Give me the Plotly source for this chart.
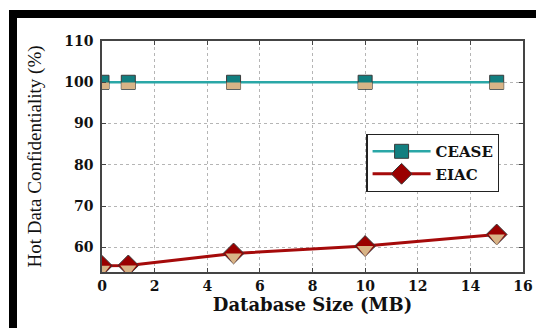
import plotly.graph_objects as go

# Data
db_size_mb = [0, 1, 5, 10, 15]
cease_conf = [100, 100, 100, 100, 100]
eiac_conf = [55.5, 55.6, 58.5, 60.3, 63.1]

x_ticks = [0, 2, 4, 6, 8, 10, 12, 14, 16]
y_ticks = [60, 70, 80, 90, 100, 110]

TEAL_LINE = "#2aa7a7"
TEAL_DARK = "#127f80"
RED_LINE = "#a50a0a"
RED_DARK = "#9a0000"
TAN = "#d8b487"
EDGE = "#3a3a3a"

fig = go.Figure()

# CEASE: line + squares (top teal, bottom tan)
fig.add_trace(go.Scatter(
    x=db_size_mb, y=cease_conf, mode="lines+markers", name="CEASE",
    line=dict(color=TEAL_LINE, width=2.5),
    marker=dict(symbol="square", size=14, color=TEAL_DARK,
                line=dict(color=EDGE, width=1)),
))
fig.add_trace(go.Scatter(
    x=db_size_mb, y=cease_conf, mode="markers", showlegend=False, hoverinfo="skip",
    marker=dict(symbol="line-ew", size=10, angle=0, standoff=3.5,
                color=TAN, line=dict(color=TAN, width=6.5)),
))

# EIAC: line + diamonds (top dark red, bottom tan)
fig.add_trace(go.Scatter(
    x=db_size_mb, y=eiac_conf, mode="lines+markers", name="EIAC",
    line=dict(color=RED_LINE, width=3),
    marker=dict(symbol="diamond", size=16, color=RED_DARK,
                line=dict(color=EDGE, width=1)),
))
fig.add_trace(go.Scatter(
    x=db_size_mb, y=eiac_conf, mode="markers", showlegend=False, hoverinfo="skip",
    marker=dict(symbol="triangle-down", size=14, angle=0, standoff=3.5,
                color=TAN, line=dict(width=0)),
))

tick_font = dict(family="DejaVu Serif", size=14, color="#111111", weight="bold")

# The page body adds an 8px margin on every side, so the figure is made
# smaller to fit the 544x336 window without scrollbars.
fig.update_layout(
    width=536, height=320,
    margin=dict(l=94, r=21, t=33, b=56),
    paper_bgcolor="white", plot_bgcolor="white",
    showlegend=True,
    legend=dict(
        x=0.628, y=0.598, xanchor="left", yanchor="top",
        bgcolor="white", bordercolor="#222222", borderwidth=1.2,
        font=dict(family="DejaVu Serif", size=15, color="#111111", weight="bold"),
        tracegroupgap=0, itemwidth=58,
    ),
    xaxis=dict(
        range=[0, 16], tickvals=x_ticks, ticktext=[str(v) for v in x_ticks],
        showgrid=True, gridcolor="#b5b5b5", griddash="dot", gridwidth=1,
        showline=True, linecolor="#444444", linewidth=1.5, mirror="ticks",
        ticks="inside", ticklen=4, tickcolor="#444444",
        tickfont=tick_font, zeroline=False,
        title=dict(text="Database Size (MB)", standoff=3,
                   font=dict(family="DejaVu Serif", size=18, color="#111111", weight="bold")),
    ),
    yaxis=dict(
        range=[54, 110], tickvals=y_ticks, ticktext=[str(v) for v in y_ticks],
        showgrid=True, gridcolor="#b5b5b5", griddash="dot", gridwidth=1,
        showline=True, linecolor="#444444", linewidth=1.5, mirror="ticks",
        ticks="inside", ticklen=4, tickcolor="#444444",
        tickfont=tick_font, zeroline=False, ticklabelstandoff=4,
        title=dict(text="Hot Data Confidentiality (%)", standoff=18,
                   font=dict(family="Liberation Serif", size=19, color="#111111")),
    ),
    shapes=[
        # thick black frame (top and left), as in the reference picture
        dict(type="rect", xref="paper", yref="paper",
             x0=-0.2209, x1=1.06, y0=1.0996, y1=1.1342,
             fillcolor="black", line=dict(width=0), layer="above"),
        dict(type="rect", xref="paper", yref="paper",
             x0=-0.2209, x1=-0.2019, y0=-0.3, y1=1.1342,
             fillcolor="black", line=dict(width=0), layer="above"),
    ],
)

fig.write_html("out.html")
